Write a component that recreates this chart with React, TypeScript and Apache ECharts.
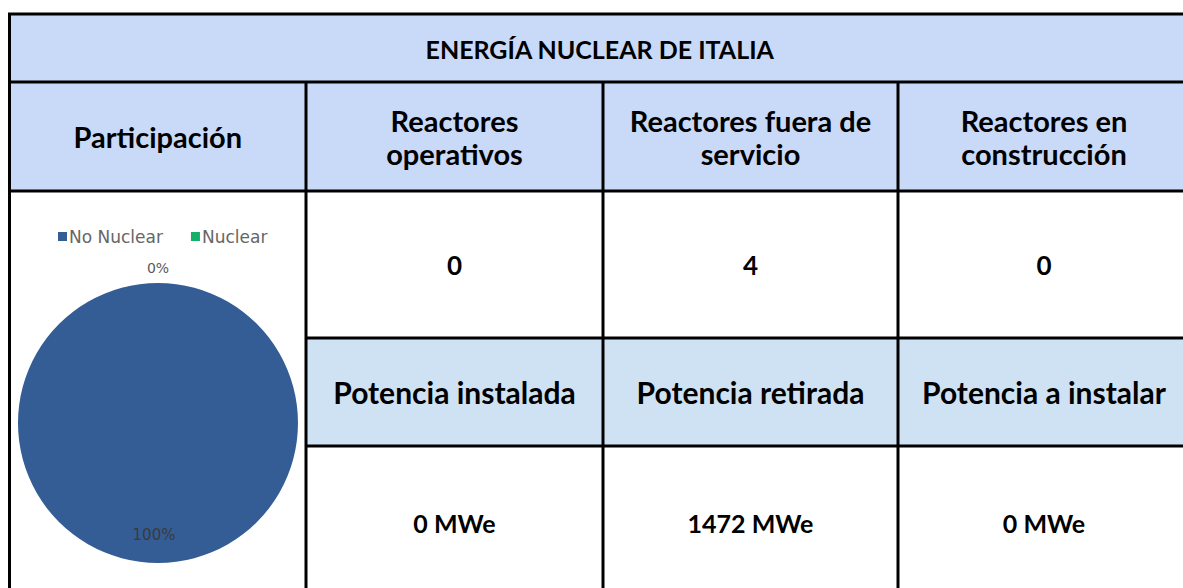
import React, { useEffect, useRef } from "react";
import * as echarts from "echarts";

// ---- data ----
const tableTitle = "ENERGÍA NUCLEAR DE ITALIA";
const headerLabels = [
  "Participación",
  "Reactores\noperativos",
  "Reactores fuera de\nservicio",
  "Reactores en\nconstrucción",
];
const reactorCounts = [0, 4, 0];
const powerLabels = ["Potencia instalada", "Potencia retirada", "Potencia a instalar"];
const powerValues = [0, 1472, 0];
const powerUnit = "MWe";
const pieCategories = ["No Nuclear", "Nuclear"];
const pieShares = [100, 0];
const pieColors = ["#345d96", "#14b06a"];

// ---- layout ----
const W = 1183;
const H = 588;
const colX = [9.5, 306, 603, 898, 1190];
const rowY = [14, 82, 191, 338, 446, 600];
const headerBlue = "#c9daf8";
const powerBlue = "#cfe2f3";
const fontOf = (size: number) => `bold ${size}px Lato`;

function buildOption() {
  const g: any[] = [];
  const txt = (text: string, x: number, y: number, size: number) => ({
    type: "text",
    z: 20,
    style: {
      text,
      x,
      y,
      font: fontOf(size),
      fill: "#000",
      align: "center",
      verticalAlign: "middle",
      textAlign: "center",
      textVerticalAlign: "middle",
      lineHeight: 33,
    },
  });
  const rect = (x0: number, y0: number, x1: number, y1: number, fill: string) => ({
    type: "rect",
    z: 0,
    shape: { x: x0, y: y0, width: x1 - x0, height: y1 - y0 },
    style: { fill },
  });
  const line = (x1: number, y1: number, x2: number, y2: number) => ({
    type: "line",
    z: 30,
    shape: { x1, y1, x2, y2 },
    style: { stroke: "#000", lineWidth: 3 },
  });

  // fills
  g.push(rect(colX[0], rowY[0], W + 10, rowY[2], headerBlue));
  g.push(rect(colX[1], rowY[3], W + 10, rowY[4], powerBlue));

  // borders
  g.push(line(colX[0] - 1.5, rowY[0], W + 10, rowY[0]));
  g.push(line(colX[0], rowY[0], colX[0], H + 10));
  g.push(line(colX[0], rowY[1], W + 10, rowY[1]));
  g.push(line(colX[0], rowY[2], W + 10, rowY[2]));
  g.push(line(colX[1], rowY[3], W + 10, rowY[3]));
  g.push(line(colX[1], rowY[4], W + 10, rowY[4]));
  for (let i = 1; i <= 3; i++) g.push(line(colX[i], rowY[1], colX[i], H + 10));

  // texts
  g.push(txt(tableTitle, (colX[0] + colX[4]) / 2, (rowY[0] + rowY[1]) / 2 + 1, 25));
  headerLabels.forEach((t, i) => {
    g.push(txt(t, (colX[i] + colX[i + 1]) / 2, (rowY[1] + rowY[2]) / 2, 29));
  });
  reactorCounts.forEach((v, i) => {
    g.push(txt(String(v), (colX[i + 1] + colX[i + 2]) / 2, (rowY[2] + rowY[3]) / 2, 26));
  });
  powerLabels.forEach((t, i) => {
    g.push(txt(t, (colX[i + 1] + colX[i + 2]) / 2, (rowY[3] + rowY[4]) / 2, 30));
  });
  powerValues.forEach((v, i) => {
    g.push(txt(`${v} ${powerUnit}`, (colX[i + 1] + colX[i + 2]) / 2, (rowY[4] + rowY[5]) / 2, 25));
  });

  return {
    animation: false,
    backgroundColor: "#ffffff",
    color: pieColors,
    graphic: { elements: g },
    legend: {
      data: pieCategories,
      left: 53,
      top: 223,
      itemWidth: 9,
      itemHeight: 9,
      itemGap: 28,
      icon: "rect",
      textStyle: { fontFamily: "DejaVu Sans", fontSize: 17, color: "#666666", padding: [0, 0, 0, -3] },
    },
    series: [
      {
        type: "pie",
        center: [158, 423],
        radius: 140,
        z: 5,
        startAngle: 90,
        avoidLabelOverlap: false,
        percentPrecision: 0,
        label: {
          show: true,
          position: "outside",
          formatter: "{d}%",
          fontFamily: "DejaVu Sans",
          fontSize: 14,
          color: "#595959",
          distanceToLabelLine: 0,
        },
        labelLine: { show: false, length: 0, length2: 0 },
        labelLayout: (p: any) => {
          if (p.dataIndex === 0) {
            return {
              x: p.rect.x + p.rect.width / 2 - 4,
              y: p.rect.y + p.rect.height * 0.9,
              align: "center",
              verticalAlign: "middle",
            };
          }
          return { align: "center", verticalAlign: "bottom", dy: -8 };
        },
        itemStyle: { borderWidth: 0 },
        data: pieCategories.map((name, i) => ({
          name,
          value: pieShares[i],
          label: i === 0 ? { color: "#3a3a3a", fontSize: 15 } : undefined,
        })),
      },
    ],
  };
}

export default function App() {
  const ref = useRef<HTMLDivElement>(null);
  useEffect(() => {
    document.body.style.margin = "0";
    document.body.style.overflow = "hidden";
    const chart = echarts.init(ref.current!, undefined, { renderer: "svg" });
    chart.setOption(buildOption());
    return () => chart.dispose();
  }, []);
  return <div ref={ref} style={{ width: W, height: H }} />;
}
